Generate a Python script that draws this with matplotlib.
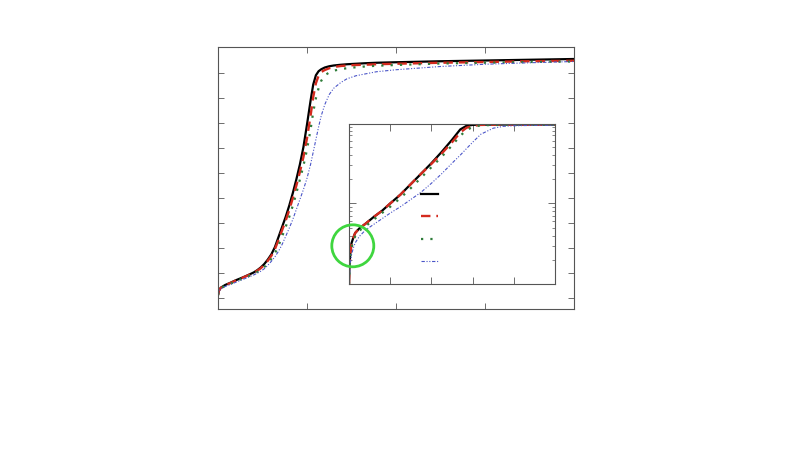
import matplotlib
matplotlib.use('Agg')
import matplotlib.pyplot as plt
from matplotlib.patches import Ellipse
from matplotlib.lines import Line2D
from matplotlib.ticker import LogLocator, NullFormatter

# main panel data
x_main = [0, 0.01, 0.03, 0.08, 0.14, 0.2, 0.27, 0.34, 0.4, 0.44, 0.48, 0.52, 0.56, 0.6,
          0.64, 0.68, 0.72, 0.76, 0.8, 0.84, 0.88, 0.92, 0.96, 1.0, 1.04, 1.07, 1.1, 1.13,
          1.16, 1.2, 1.25, 1.3, 1.38, 1.45, 1.55, 1.65, 1.78, 2.0, 2.5, 3.0, 3.5, 4.0]
y_black = [0.13, 0.3, 0.42, 0.53, 0.62, 0.72, 0.82, 0.93, 1.03, 1.12, 1.23, 1.37, 1.55, 1.76,
           2.05, 2.45, 2.85, 3.25, 3.7, 4.2, 4.75, 5.35, 6.05, 6.95, 7.9, 8.55, 8.92, 9.08,
           9.16, 9.23, 9.28, 9.31, 9.34, 9.36, 9.38, 9.4, 9.42, 9.44, 9.48, 9.51, 9.54, 9.57]
y_red = [0.13, 0.3, 0.41, 0.52, 0.61, 0.71, 0.81, 0.92, 1.02, 1.1, 1.2, 1.33, 1.5, 1.7,
         1.97, 2.33, 2.72, 3.1, 3.52, 4.0, 4.5, 5.05, 5.65, 6.4, 7.3, 8.05, 8.6, 8.9,
         9.05, 9.13, 9.2, 9.25, 9.29, 9.31, 9.33, 9.34, 9.36, 9.38, 9.42, 9.45, 9.48, 9.5]
y_green = [0.12, 0.28, 0.39, 0.5, 0.58, 0.68, 0.78, 0.88, 0.97, 1.05, 1.13, 1.25, 1.4, 1.58,
           1.8, 2.1, 2.47, 2.85, 3.25, 3.7, 4.2, 4.75, 5.3, 5.95, 6.75, 7.45, 8.0, 8.4,
           8.7, 8.92, 9.03, 9.1, 9.17, 9.2, 9.24, 9.27, 9.3, 9.33, 9.39, 9.42, 9.45, 9.47]
y_blue = [0.12, 0.27, 0.37, 0.47, 0.55, 0.64, 0.74, 0.84, 0.93, 1.0, 1.08, 1.18, 1.32, 1.48,
          1.66, 1.88, 2.15, 2.47, 2.8, 3.15, 3.55, 3.95, 4.35, 4.8, 5.35, 5.85, 6.35, 6.85,
          7.3, 7.75, 8.15, 8.4, 8.63, 8.78, 8.9, 8.97, 9.06, 9.14, 9.27, 9.36, 9.42, 9.47]

# inset data (log y)
x_ins = [0, 0.01, 0.03, 0.06, 0.1, 0.15, 0.25, 0.4, 0.6, 0.8, 1.0, 1.25, 1.5, 1.75, 2.0,
         2.25, 2.5, 2.7, 2.85, 3.0, 3.2, 3.5, 3.75, 4.0, 4.5, 5.0]
yi_black = [0.10, 0.16, 0.24, 0.32, 0.37, 0.43, 0.49, 0.56, 0.68, 0.81, 1.0, 1.29, 1.74,
            2.34, 3.16, 4.37, 6.17, 8.3, 9.2, 9.45, 9.52, 9.54, 9.55, 9.55, 9.56, 9.56]
yi_red = [0.10, 0.15, 0.23, 0.31, 0.37, 0.43, 0.49, 0.56, 0.68, 0.81, 1.0, 1.29, 1.74,
          2.34, 3.1, 4.17, 5.75, 7.6, 8.7, 9.2, 9.45, 9.5, 9.52, 9.53, 9.54, 9.54]
yi_green = [0.10, 0.14, 0.21, 0.28, 0.34, 0.39, 0.46, 0.52, 0.63, 0.76, 0.91, 1.17, 1.55,
            2.09, 2.82, 3.80, 5.25, 6.92, 8.13, 8.91, 9.33, 9.44, 9.46, 9.47, 9.48, 9.48]
yi_blue = [0.10, 0.126, 0.178, 0.229, 0.275, 0.324, 0.389, 0.468, 0.55, 0.646, 0.759, 0.912,
           1.12, 1.38, 1.78, 2.34, 3.16, 3.98, 4.79, 5.75, 7.24, 8.6, 9.08, 9.23, 9.33, 9.36]

styles = [
    dict(color='black', lw=1.6, ls='-'),
    dict(color='#d42a1e', lw=1.7, ls=(0, (4, 2.5))),
    dict(color='#2f7d3a', lw=1.6, ls=(0, (1, 3.2))),
    dict(color='#4a55c8', lw=0.8, ls=(0, (3, 1.5, 1, 1.5, 1, 1.5))),
]

fig = plt.figure(figsize=(8, 4.5), dpi=100)
ax = fig.add_axes([218/800, 1-309/450, 356/800, 262/450])
for y, st in zip([y_black, y_red, y_green, y_blue], styles):
    ax.plot(x_main, y, **st)
ax.set_xlim(0, 4)
ax.set_ylim(-0.43, 10.05)
ax.set_xticks([1, 2, 3])
ax.set_yticks(range(10))
ax.tick_params(direction='in', top=True, right=True, length=4, width=0.6, color='#555',
               labelleft=False, labelbottom=False)
for s in ax.spines.values():
    s.set_color('#555')
    s.set_linewidth(0.8)

ins = fig.add_axes([349/800, 1-284/450, 206/800, 160/450])
for y, st in zip([yi_black, yi_red, yi_green, yi_blue], styles):
    ins.plot(x_ins, y, **st)
ins.set_yscale('log')
ins.set_xlim(0, 5)
ins.set_ylim(0.1, 9.7)
ins.set_xticks([1, 2, 3, 4])
ins.yaxis.set_major_locator(LogLocator(base=10))
ins.yaxis.set_minor_locator(LogLocator(base=10, subs=range(2, 10)))
ins.yaxis.set_minor_formatter(NullFormatter())
ins.tick_params(which='both', direction='in', top=True, right=True, color='#555',
                labelleft=False, labelbottom=False)
ins.tick_params(which='major', length=5, width=0.6)
ins.tick_params(which='minor', length=2.5, width=0.5)
for s in ins.spines.values():
    s.set_color('#555')
    s.set_linewidth(0.8)

handles = [Line2D([], [], **st) for st in styles]
ins.legend(handles, [' '] * 4, loc='upper left', bbox_to_anchor=(0.35, 0.60),
           frameon=False, handlelength=1.22, labelspacing=0.59, fontsize=10,
           borderaxespad=0, borderpad=0)

fig.add_artist(Ellipse((352.8/800, 1-245.8/450), 42/800, 42/450,
                       transform=fig.transFigure, fill=False, ec='#3fd63f', lw=2))

fig.savefig('out.png', dpi=100)
